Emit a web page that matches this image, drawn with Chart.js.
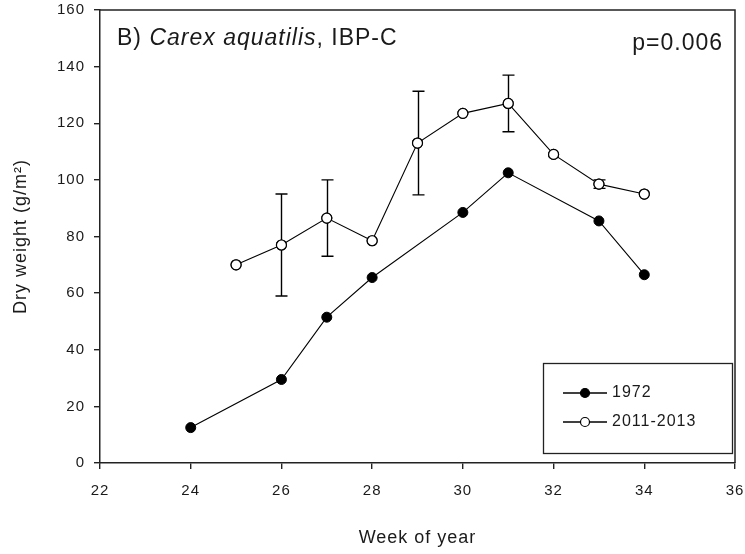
<!DOCTYPE html>
<html>
<head>
<meta charset="utf-8">
<script src="https://cdn.jsdelivr.net/npm/chart.js@4.4.1/dist/chart.umd.min.js"></script>
<style>
  html, body { margin: 0; padding: 0; background: #fff; }
  #wrap { width: 745px; height: 554px; position: relative; }
</style>
</head>
<body>
<div id="wrap"><canvas id="c" width="745" height="554"></canvas></div>
<script>
// Sampling weeks and mean dry weight (g/m²)
const weeks1972 = [24, 26, 27, 28, 30, 31, 33, 34];
const dryWeight1972 = [12.5, 29.5, 51.5, 65.5, 88.5, 102.5, 85.5, 66.5];

const weeksRecent = [25, 26, 27, 28, 29, 30, 31, 32, 33, 34];
const dryWeightRecent = [70, 77, 86.5, 78.5, 113, 123.5, 127, 109, 98.5, 95];
// Standard error for 2011-2013 (null = no bar)
const errRecent = [null, 18, 13.5, null, 18.3, null, 10, null, 1.5, null];

const seriesLabels = ['1972', '2011-2013'];
const xTicks = [22, 24, 26, 28, 30, 32, 34, 36];
const yTicks = [0, 20, 40, 60, 80, 100, 120, 140, 160];

const FONT = '"Liberation Sans", Arial, sans-serif';
const INK = '#1a1a1a';

const pts = (xs, ys) => xs.map((x, i) => ({ x, y: ys[i] }));

// Slightly open letter spacing for all text drawn on the canvas
const spacing = {
  id: 'spacing',
  beforeDraw(chart) { chart.ctx.letterSpacing = '1px'; }
};

// Error bars, frame, panel text and legend box
const decorations = {
  id: 'decorations',
  afterDatasetsDraw(chart) {
    const { ctx, chartArea: a, scales: { x, y } } = chart;
    ctx.save();
    ctx.strokeStyle = '#000';
    ctx.lineWidth = 1.4;
    // error bars drawn under the open markers
    errRecent.forEach((e, i) => {
      if (e == null) return;
      const px = Math.round(x.getPixelForValue(weeksRecent[i])) + 0.5;
      const top = y.getPixelForValue(dryWeightRecent[i] + e);
      const bot = y.getPixelForValue(dryWeightRecent[i] - e);
      ctx.beginPath();
      ctx.moveTo(px, top); ctx.lineTo(px, bot);
      ctx.moveTo(px - 6, top); ctx.lineTo(px + 6, top);
      ctx.moveTo(px - 6, bot); ctx.lineTo(px + 6, bot);
      ctx.stroke();
    });
    // redraw the open markers on top of the bars
    const meta = chart.getDatasetMeta(1);
    meta.data.forEach(pt => {
      ctx.beginPath();
      ctx.arc(pt.x, pt.y, 5, 0, Math.PI * 2);
      ctx.fillStyle = '#fff';
      ctx.fill();
      ctx.lineWidth = 1.2;
      ctx.stroke();
    });

    // frame: top and right edges
    ctx.lineWidth = 1.5;
    ctx.strokeStyle = '#222';
    ctx.beginPath();
    ctx.moveTo(a.left, a.top);
    ctx.lineTo(a.right, a.top);
    ctx.lineTo(a.right, a.bottom);
    ctx.stroke();

    // panel label
    ctx.letterSpacing = '1px';
    ctx.fillStyle = INK;
    ctx.textBaseline = 'alphabetic';
    ctx.textAlign = 'left';
    let tx = 117;
    const ty = 45;
    const parts = [['B) ', 'normal'], ['Carex aquatilis', 'italic'], [', IBP-C', 'normal']];
    parts.forEach(([t, st]) => {
      ctx.font = `${st} 23px ${FONT}`;
      ctx.fillText(t, tx, ty);
      tx += ctx.measureText(t).width;
    });
    ctx.font = `23px ${FONT}`;
    ctx.textAlign = 'right';
    ctx.fillText('p=0.006', 723, 50);

    // legend
    ctx.lineWidth = 1.3;
    ctx.strokeStyle = '#222';
    ctx.strokeRect(543.5, 363.5, 189, 90);
    const rows = [{ y: 393, fill: '#000' }, { y: 422, fill: '#fff' }];
    rows.forEach((r, i) => {
      ctx.strokeStyle = '#000';
      ctx.lineWidth = 1.3;
      ctx.beginPath();
      ctx.moveTo(563, r.y); ctx.lineTo(607, r.y);
      ctx.stroke();
      ctx.beginPath();
      ctx.arc(585, r.y, 4.5, 0, Math.PI * 2);
      ctx.fillStyle = r.fill;
      ctx.fill();
      ctx.lineWidth = 1.2;
      ctx.stroke();
      ctx.fillStyle = INK;
      ctx.textAlign = 'left';
      ctx.textBaseline = 'middle';
      ctx.font = `16px ${FONT}`;
      ctx.fillText(seriesLabels[i], 612, r.y);
    });
    ctx.restore();
  }
};

new Chart(document.getElementById('c'), {
  type: 'line',
  data: {
    datasets: [
      {
        label: seriesLabels[0],
        data: pts(weeks1972, dryWeight1972),
        borderColor: '#000',
        borderWidth: 1.1,
        pointRadius: 5,
        pointBackgroundColor: '#000',
        pointBorderColor: '#000',
        pointBorderWidth: 1,
        tension: 0
      },
      {
        label: seriesLabels[1],
        data: pts(weeksRecent, dryWeightRecent),
        borderColor: '#000',
        borderWidth: 1.1,
        pointRadius: 5,
        pointBackgroundColor: '#fff',
        pointBorderColor: '#000',
        pointBorderWidth: 1.2,
        tension: 0
      }
    ]
  },
  options: {
    responsive: false,
    animation: false,
    layout: { padding: { left: 0, right: 10, top: 10, bottom: 0 } },
    plugins: { legend: { display: false }, tooltip: { enabled: false } },
    scales: {
      x: {
        type: 'linear',
        min: 22, max: 36,
        afterBuildTicks: s => { s.ticks = xTicks.map(v => ({ value: v })); },
        afterFit: s => { s.height = 91; s.paddingLeft = 0; s.paddingRight = 0; },
        grid: { drawOnChartArea: false, drawTicks: true, tickLength: 6, color: '#222', lineWidth: 1.4 },
        border: { display: true, color: '#222', width: 1.5 },
        ticks: { color: INK, font: { family: FONT, size: 15 }, padding: 13, maxRotation: 0 },
        title: { display: true, text: 'Week of year', color: INK, font: { family: FONT, size: 18 }, padding: { top: 0, bottom: 5 } }
      },
      y: {
        type: 'linear',
        min: 0, max: 160,
        afterBuildTicks: s => { s.ticks = yTicks.map(v => ({ value: v })); },
        afterFit: s => { s.width = 100; s.paddingTop = 0; s.paddingBottom = 0; },
        grid: { drawOnChartArea: false, drawTicks: true, tickLength: 6, color: '#222', lineWidth: 1.4 },
        border: { display: true, color: '#222', width: 1.5 },
        ticks: { color: INK, font: { family: FONT, size: 15 }, padding: 9 },
        title: { display: true, text: 'Dry weight (g/m²)', color: INK, font: { family: FONT, size: 18 }, padding: { top: 10, bottom: 0 } }
      }
    }
  },
  plugins: [spacing, decorations]
});
</script>
</body>
</html>
